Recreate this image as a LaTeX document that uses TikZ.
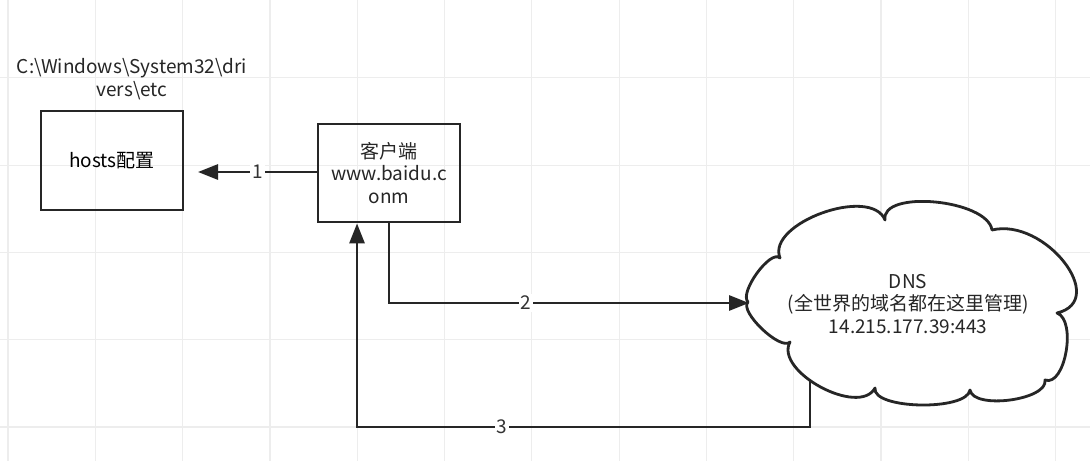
\documentclass[tikz,border=0pt]{standalone}
\usepackage{fontspec}
\setmainfont{Noto Sans CJK SC}
\usetikzlibrary{arrows.meta}
\begin{document}
\begin{tikzpicture}[x=0.5pt,y=-0.5pt,
  font=\fontsize{9.5}{11.2}\selectfont,
  box/.style={draw=black!85,line width=1.4pt,inner sep=0pt},
  conn/.style={draw=black!85,line width=1.4pt,-{Triangle[length=10pt,width=7.5pt]}},
  lbl/.style={fill=white,inner sep=1pt,text=black!80},
  cloudline/.style={draw=black!85,line width=1.4pt,fill=white,line join=round},
  gridline/.style={draw=black!7,line width=0.6pt}]
\useasboundingbox (0,0) rectangle (1090,461);
\fill[white] (0,0) rectangle (1090,461);
% faint background grid
\foreach \gx in {8,95.3,182.6,269.9,357.2,444.5,531.8,619.1,706.4,793.7,881,968.3,1055.6}
  \draw[gridline] (\gx,0) -- (\gx,461);
\foreach \gy in {-9.5,77.8,165.1,252.4,339.7,427}
  \draw[gridline] (0,\gy) -- (1090,\gy);
% nodes
\node[text=black!85,align=center] (path) at (132,79) {C:\textbackslash Windows\textbackslash System32\textbackslash dri\\vers\textbackslash etc};
\node[box,minimum width=71pt,minimum height=49.5pt] (hosts) at (112,160.5) {hosts配置};
\node[box,minimum width=71pt,minimum height=49pt,align=center,text=black!85] (client) at (389,173) {客户端\\www.baidu.c\\onm};
% connectors
\coordinate (c1) at (198,172);
\coordinate (c2a) at (389,303);
\coordinate (dnsw) at (749,303);
\coordinate (c3) at (810,370);
\coordinate (c3a) at (810,427);
\coordinate (c3b) at (357,427);
\draw[conn] (client.west |- c1) -- node[lbl,pos=0.5]{1} (c1);
\draw[conn] (client.south) -- (c2a) -- node[lbl,pos=0.38]{2} (dnsw);
\draw[conn] (c3) -- (c3a) -- node[lbl,pos=0.68]{3} (c3b) -- (c3b |- client.south);
% cloud
\path[cloudline] (748,302)
  .. controls (738.7,292.7) and (770.7,248.7) .. (780,258)
  .. controls (766,223.3) and (871,185.3) .. (885,220)
  .. controls (880.3,189.3) and (987.3,199.3) .. (992,230)
  .. controls (1044.7,217.3) and (1109.7,300.3) .. (1057,313)
  .. controls (1077,320.3) and (1065,387.3) .. (1045,380)
  .. controls (1048.3,400) and (973.3,410) .. (970,390)
  .. controls (966.7,411.3) and (871.7,409.3) .. (875,388)
  .. controls (859,417.3) and (774,371.3) .. (790,342)
  .. controls (780.7,351.3) and (738.7,311.3) .. (748,302) -- cycle;
\node[align=center,text=black!85] (dns) at (908,304) {DNS\\(全世界的域名都在这里管理)\\14.215.177.39:443};
\end{tikzpicture}
\end{document}
